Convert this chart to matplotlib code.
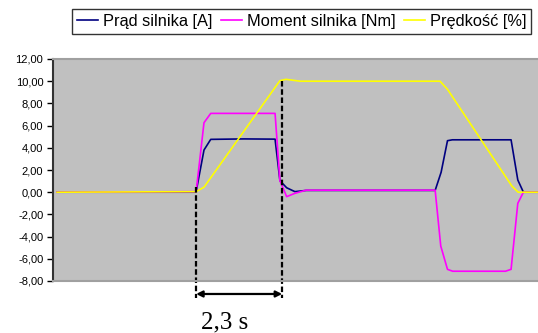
import matplotlib.pyplot as plt
from matplotlib.ticker import FuncFormatter

# czas [s] i wartości
t_prad = [0, 3.69, 3.72, 3.93, 4.11, 5.00, 5.83, 5.96, 6.14, 6.36, 6.66, 10.11, 10.27, 10.44, 10.57, 12.14, 12.32, 12.47, 12.86]
prad = [0, 0, 0.05, 3.8, 4.76, 4.8, 4.78, 1.04, 0.4, 0.05, 0.16, 0.16, 1.8, 4.64, 4.72, 4.72, 1.1, 0, 0]

t_moment = [0, 3.72, 3.93, 4.11, 5.83, 5.96, 6.14, 6.36, 6.66, 10.11, 10.26, 10.44, 10.58, 11.99, 12.14, 12.32, 12.47, 12.86]
moment = [0, 0.05, 6.26, 7.1, 7.1, 1.04, -0.4, -0.1, 0.18, 0.18, -4.85, -6.95, -7.12, -7.12, -6.95, -1.0, 0, 0]

t_predkosc = [0, 3.72, 3.93, 5.96, 6.12, 6.50, 10.24, 10.44, 12.16, 12.33, 12.86]
predkosc = [0, 0.05, 0.45, 10.05, 10.17, 10.0, 10.0, 9.27, 0.56, 0, 0]

yticks = [-8, -6, -4, -2, 0, 2, 4, 6, 8, 10, 12]
t_start, t_stop = 3.72, 6.02
label_czas = "2,3 s"

fig = plt.figure(figsize=(5.38, 3.33), dpi=100)
ax = fig.add_axes([53 / 538, 52 / 333, 485 / 538, 222 / 333])
ax.set_facecolor("#C0C0C0")

ax.plot(t_prad, prad, color="#000080", lw=1.2, label="Prąd silnika [A]")
ax.plot(t_moment, moment, color="#FF00FF", lw=1.2, label="Moment silnika [Nm]")
ax.plot(t_predkosc, predkosc, color="#FFFF00", lw=1.2, label="Prędkość [%]")

ax.set_xlim(-0.107, 12.86)
ax.set_ylim(-8, 12)
ax.set_yticks(yticks)
ax.yaxis.set_major_formatter(FuncFormatter(lambda v, _: f"{v:.2f}".replace(".", ",")))
ax.tick_params(axis="y", direction="out", length=4, width=1, pad=3, labelsize=8)
ax.set_xticks([])

ax.spines["left"].set_color("#333333")
ax.spines["left"].set_linewidth(1.5)
ax.spines["top"].set_color("#A0A0A0")
ax.spines["bottom"].set_color("#A0A0A0")
ax.spines["top"].set_linewidth(1.5)
ax.spines["bottom"].set_linewidth(1.5)
ax.spines["right"].set_visible(False)

# pomiar czasu rozruchu
y_low = -9.55
ax.plot([t_start, t_start], [0.5, y_low], color="black", lw=1.6, ls=(0, (2.5, 1.2)), clip_on=False)
ax.plot([t_stop, t_stop], [10.05, y_low], color="black", lw=1.6, ls=(0, (2.5, 1.2)), clip_on=False)
ax.annotate("", xy=(t_start, -9.17), xytext=(t_stop, -9.17), xycoords="data",
            arrowprops=dict(arrowstyle="<|-|>", color="black", lw=1.6, mutation_scale=9,
                            shrinkA=0, shrinkB=0), annotation_clip=False)
ax.text(4.48, -12.25, label_czas, family="Liberation Serif", fontsize=18,
        ha="center", va="baseline", clip_on=False)

for lab in ax.get_yticklabels():
    lab.set_family(["Liberation Sans", "DejaVu Sans"])

leg = fig.legend(loc="upper right", bbox_to_anchor=(531 / 538, 1 - 9 / 333), ncol=3, frameon=True,
                 fancybox=False, borderpad=0.3, handlelength=1.25, handletextpad=0.3,
                 columnspacing=0.55, borderaxespad=0,
                 prop={"family": ["Liberation Sans", "DejaVu Sans"], "size": 11.8})
leg.get_frame().set_edgecolor("black")
leg.get_frame().set_linewidth(1.0)

fig.savefig("out.png", dpi=100)
